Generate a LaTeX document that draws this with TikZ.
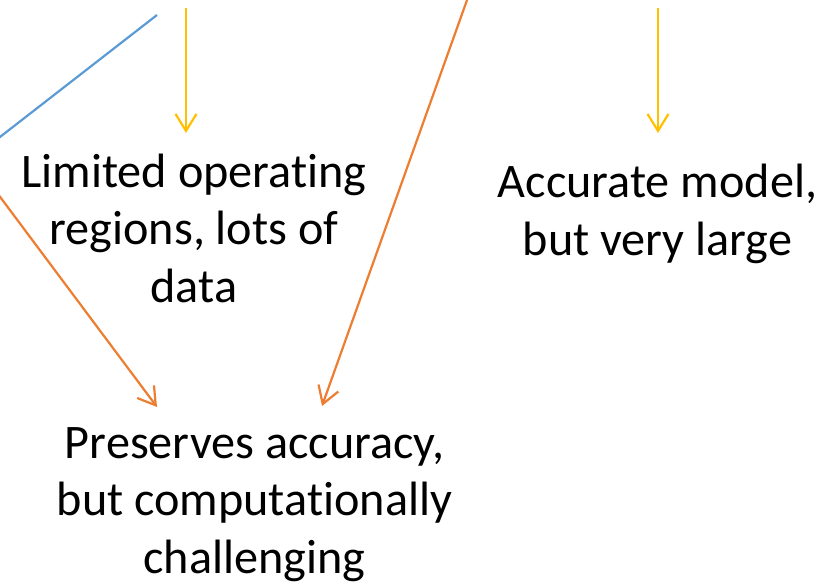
\documentclass[tikz,border=0pt]{standalone}
\usepackage{fontspec}
\setmainfont{Carlito}[Ligatures=NoCommon]
\usetikzlibrary{arrows.meta}
\definecolor{accblue}{HTML}{5B9BD5}
\definecolor{accorange}{HTML}{ED7D31}
\definecolor{accgold}{HTML}{FFC000}
\begin{document}
\begin{tikzpicture}[x=1pt,y=-1pt,>={Straight Barb[length=17pt,width=21pt]},
		note/.style={align=center,inner sep=0pt,anchor=base,font=\fontsize{48.2}{57.5}\selectfont},
		link/.style={line width=2.2pt}]
		\useasboundingbox (0,0) rectangle (820,584);
		\node[note] (limited) at (194,302) {Limited operating\\regions, lots of\\data};
		\node[note] (accurate) at (657.5,255) {Accurate model,\\but very large};
		\node[note] (preserves) at (254.5,573) {Preserves accuracy,\\but computationally\\challenging};
		\coordinate (blueA) at (157,15);
		\coordinate (blueB) at (-20,152.5);
		\coordinate (orangeA) at (-20,170);
		\coordinate (orangeB) at (157,407);
		\coordinate (orangeC) at (470.6,-10);
		\coordinate (orangeD) at (322,406);
		\coordinate (goldA) at (186,8);
		\coordinate (goldB) at (186,133);
		\coordinate (goldC) at (658,8);
		\coordinate (goldD) at (658,133);
		\draw[link,accblue] (blueA)--(blueB);
		\draw[link,accorange,->] (orangeA)--(orangeB);
		\draw[link,accorange,->] (orangeC)--(orangeD);
		\draw[link,accgold,->] (goldA)--(goldB);
		\draw[link,accgold,->] (goldC)--(goldD);
	\end{tikzpicture}
\end{document}
